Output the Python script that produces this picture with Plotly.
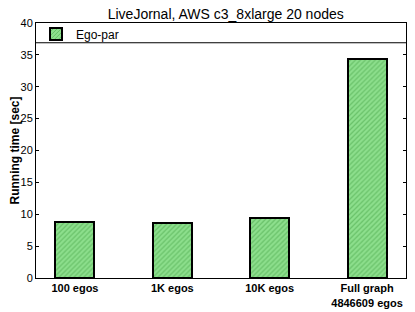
import plotly.graph_objects as go

categories = ["100 egos", "1K egos", "10K egos", "Full graph<br>4846609 egos"]
ego_par = [8.85, 8.55, 9.35, 34.4]
y_ticks = [0, 5, 10, 15, 20, 25, 30, 35, 40]

FONT = "Liberation Sans, Arial, sans-serif"

# The page body has an 8px margin; size the figure so the plot lands where the reference's does.
fig = go.Figure()
fig.add_trace(go.Bar(
    x=list(range(len(categories))), y=ego_par, name="Ego-par",
    width=0.4,
    marker=dict(color="#8ee08e", line=dict(color="black", width=2),
                pattern=dict(shape="/", fgcolor="#3f9f3f", bgcolor="#8ee08e", size=3.5, solidity=0.35)),
))

fig.add_shape(type="line", xref="paper", yref="y", x0=0, x1=1, y0=36.9, y1=36.9,
              line=dict(color="black", width=1))

fig.update_layout(
    width=407, height=304,
    margin=dict(l=28, r=9, t=15, b=34),
    paper_bgcolor="white", plot_bgcolor="white",
    font=dict(family=FONT, size=11, color="black"),
    title=dict(text="LiveJornal, AWS c3_8xlarge 20 nodes", x=0.535, xanchor="center",
               y=0.996, yanchor="top", pad=dict(t=0, b=0), font=dict(size=14)),
    showlegend=True,
    legend=dict(x=0.0, y=1.014, xanchor="left", yanchor="top",
                bgcolor="rgba(0,0,0,0)",
                font=dict(size=12), borderwidth=0, itemwidth=30,
                tracegroupgap=0),
    bargap=0,
)
fig.update_xaxes(
    range=[-0.4, 3.4], tickvals=list(range(len(categories))), ticktext=[f"<b>{c}</b>" for c in categories],
    showgrid=False, zeroline=False, showline=True, linecolor="black", linewidth=1, mirror=True,
    ticks="", tickfont=dict(size=11), automargin=False,
)
fig.update_yaxes(
    range=[0, 40], tickvals=y_ticks, showgrid=False, zeroline=False,
    showline=True, linecolor="black", linewidth=1, mirror="allticks",
    ticks="inside", ticklen=3, tickcolor="black", tickfont=dict(size=11), automargin=False,
    title=dict(text="<b>Running time [sec]</b>", font=dict(size=12), standoff=6),
)

fig.write_html("out.html", config={"displayModeBar": False})
